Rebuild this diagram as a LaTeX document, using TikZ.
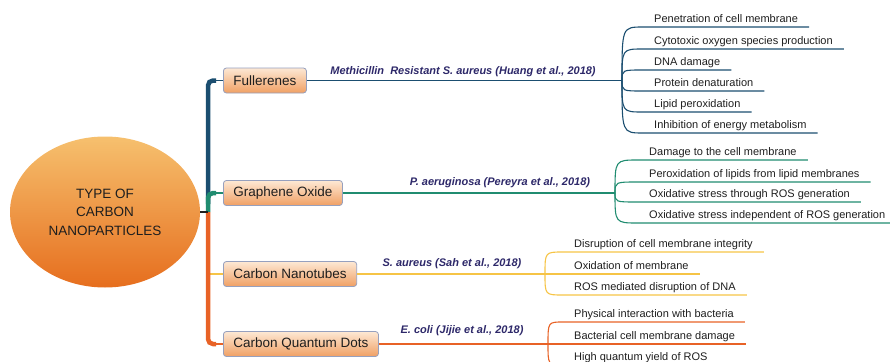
\documentclass[tikz,border=0pt]{standalone}
\usepackage{fontspec}
\setmainfont{Liberation Sans}
\usetikzlibrary{shapes.geometric}
\definecolor{fulc}{RGB}{27,78,112}
\definecolor{grac}{RGB}{32,140,112}
\definecolor{nanc}{RGB}{246,196,70}
\definecolor{qdc}{RGB}{232,98,38}
\definecolor{refc}{RGB}{45,40,105}
\definecolor{boxline}{RGB}{150,160,190}
\definecolor{boxtop}{RGB}{253,232,212}
\definecolor{boxbot}{RGB}{240,160,100}
\definecolor{rootop}{RGB}{246,192,110}
\definecolor{rootbot}{RGB}{230,110,30}
\definecolor{inkc}{RGB}{30,30,30}
\begin{document}
\begin{tikzpicture}[x=1pt,y=-1pt,
	cat/.style={draw=boxline, line width=0.8pt, rounded corners=3pt, top color=boxtop, bottom color=boxbot, inner xsep=10pt, minimum height=25pt, anchor=west, font=\fontsize{13.5}{15}\selectfont, text=inkc},
	leaf/.style={anchor=south west, inner xsep=11pt, inner ysep=2pt, text height=8pt, text depth=2.5pt, font=\fontsize{11}{13}\selectfont, text=inkc},
	ref/.style={font=\fontsize{11}{13}\selectfont\bfseries\itshape, text=refc},
	branch/.style={line width=1.4pt},
	trunk/.style={line width=4.5pt, rounded corners=5pt, shorten >=7pt},
	fan/.style={line width=1.1pt}]
\useasboundingbox (0,0) rectangle (890,361);
	\node[ellipse, inner sep=0pt, minimum width=190pt, minimum height=151pt, top color=rootop, bottom color=rootbot, align=center, text=inkc, font=\fontsize{13.5}{18.5}\selectfont] (root) at (105,212) {TYPE OF\\CARBON\\NANOPARTICLES};
	\node[cat] (ful) at (223,80.5) {Fullerenes};
	\node[cat] (gra) at (223,193) {Graphene Oxide};
	\node[cat] (nan) at (223,274) {Carbon Nanotubes};
	\node[cat] (cqd) at (223,344) {Carbon Quantum Dots};
	\coordinate (tk) at (208,212);
	\coordinate (fj) at (622,80.5);
	\coordinate (gj) at (615,193);
	\coordinate (nj) at (545,274);
	\coordinate (qj) at (548,344);
	\node[ref] (fref) at (463,72) {Methicillin\ \ Resistant S. aureus (Huang et al., 2018)};
	\node[ref] (gref) at (500,183) {P. aeruginosa (Pereyra et al., 2018)};
	\node[ref] (nref) at (452,264) {S. aureus (Sah et al., 2018)};
	\node[ref] (qref) at (462,331) {E. coli (Jijie et al., 2018)};
	\node[leaf] (f1) at (643,27) {Penetration of cell membrane};
	\node[leaf] (f2) at (643,49) {Cytotoxic oxygen species production};
	\node[leaf] (f3) at (643,70) {DNA damage};
	\node[leaf] (f4) at (643,91) {Protein denaturation};
	\node[leaf] (f5) at (643,112) {Lipid peroxidation};
	\node[leaf] (f6) at (643,133) {Inhibition of energy metabolism};
	\node[leaf] (g1) at (638,160) {Damage to the cell membrane};
	\node[leaf] (g2) at (638,182) {Peroxidation of lipids from lipid membranes};
	\node[leaf] (g3) at (638,202) {Oxidative stress through ROS generation};
	\node[leaf] (g4) at (638,223) {Oxidative stress independent of ROS generation};
	\node[leaf] (n1) at (563,252) {Disruption of cell membrane integrity};
	\node[leaf] (n2) at (563,274) {Oxidation of membrane};
	\node[leaf] (n3) at (563,295) {ROS mediated disruption of DNA};
	\node[leaf] (q1) at (563,322) {Physical interaction with bacteria};
	\node[leaf] (q2) at (563,344) {Bacterial cell membrane damage};
	\node[leaf] (q3) at (563,365) {High quantum yield of ROS};
\draw[trunk, fulc] (208,204) |- (ful.west);
\draw[branch, fulc] (ful.west) -- ++(-9,0);
\draw[trunk, grac] (tk) |- (gra.west);
\draw[branch, grac] (gra.west) -- ++(-9,0);
\draw[branch, nanc] (nan.west) -- (nan.west -| tk);
\draw[trunk, qdc] (tk) |- (cqd.west);
\draw[branch, qdc] (cqd.west) -- ++(-9,0);
\draw[line width=1.5pt, inkc] (root.east) -- (tk);
\draw[branch, fulc] (ful.east) -- (fj);
\draw[branch, grac] (gra.east) -- (gj);
\draw[branch, nanc] (nan.east) -- (nj);
\draw[branch, qdc] (cqd.east) -- (qj);
\draw[fan, fulc] (fj) .. controls (fj |- f1.south west) and (fj |- f1.south west) .. (f1.south west) -- (f1.south east);
\draw[fan, fulc] (fj) .. controls (fj |- f2.south west) and (fj |- f2.south west) .. (f2.south west) -- (f2.south east);
\draw[fan, fulc] (fj) .. controls (fj |- f3.south west) and (fj |- f3.south west) .. (f3.south west) -- (f3.south east);
\draw[fan, fulc] (fj) .. controls (fj |- f4.south west) and (fj |- f4.south west) .. (f4.south west) -- (f4.south east);
\draw[fan, fulc] (fj) .. controls (fj |- f5.south west) and (fj |- f5.south west) .. (f5.south west) -- (f5.south east);
\draw[fan, fulc] (fj) .. controls (fj |- f6.south west) and (fj |- f6.south west) .. (f6.south west) -- (f6.south east);
\draw[fan, grac] (gj) .. controls (gj |- g1.south west) and (gj |- g1.south west) .. (g1.south west) -- (g1.south east);
\draw[fan, grac] (gj) .. controls (gj |- g2.south west) and (gj |- g2.south west) .. (g2.south west) -- (g2.south east);
\draw[fan, grac] (gj) .. controls (gj |- g3.south west) and (gj |- g3.south west) .. (g3.south west) -- (g3.south east);
\draw[fan, grac] (gj) .. controls (gj |- g4.south west) and (gj |- g4.south west) .. (g4.south west) -- (g4.south east);
\draw[fan, nanc] (nj) .. controls (nj |- n1.south west) and (nj |- n1.south west) .. (n1.south west) -- (n1.south east);
\draw[fan, nanc] (nj) -- (n2.south west) -- (n2.south east);
\draw[fan, nanc] (nj) .. controls (nj |- n3.south west) and (nj |- n3.south west) .. (n3.south west) -- (n3.south east);
\draw[fan, qdc] (qj) .. controls (qj |- q1.south west) and (qj |- q1.south west) .. (q1.south west) -- (q1.south east);
\draw[fan, qdc] (qj) -- (q2.south west) -- (q2.south east);
\draw[fan, qdc] (qj) .. controls (qj |- q3.south west) and (qj |- q3.south west) .. (q3.south west) -- (q3.south east);
\end{tikzpicture}
\end{document}
